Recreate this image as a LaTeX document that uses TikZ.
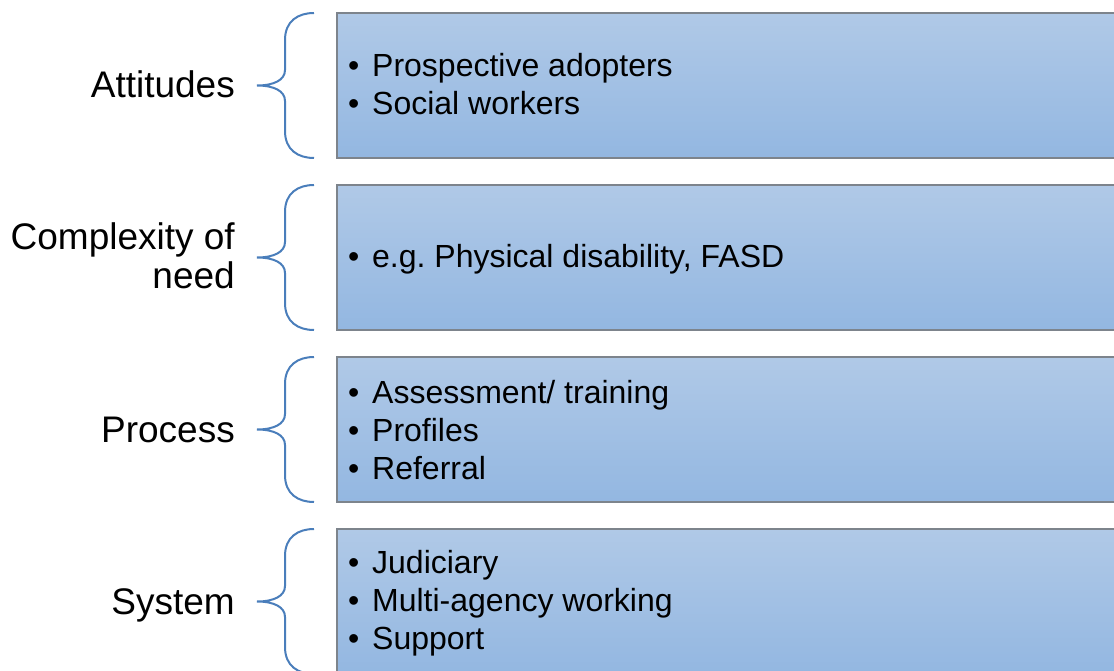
\documentclass[tikz,border=0pt]{standalone}
\usepackage{fontspec}
\setmainfont{Liberation Sans}
\frenchspacing
\definecolor{boxtop}{RGB}{176,201,231}
\definecolor{boxbot}{RGB}{147,183,225}
\definecolor{boxline}{RGB}{125,132,140}
\definecolor{bracecol}{RGB}{74,126,187}
\tikzset{
  box/.style={draw=boxline, line width=1.3pt, top color=boxtop, bottom color=boxbot,
    minimum width=820pt, minimum height=145pt, inner sep=0pt, outer sep=0pt, anchor=north west},
  lbl/.style={font=\fontsize{37}{38}\selectfont, anchor=base east, inner sep=0pt},
  item/.style={font=\fontsize{32}{37.5}\selectfont, anchor=base west, inner sep=0pt},
  lbrace/.pic={
    \draw[bracecol, line width=2pt]
      (0,0) .. controls (-16,0) and (-29,8) .. (-29,27) -- (-29,57)
      .. controls (-29,67) and (-40,72.5) .. (-57,72.5)
      .. controls (-40,72.5) and (-29,78) .. (-29,88) -- (-29,118)
      .. controls (-29,137) and (-16,145) .. (0,145);
  }
}
\newcommand{\bul}{\makebox[24pt][l]{•}}
\begin{document}
\begin{tikzpicture}[x=1pt,y=-1pt]
\useasboundingbox (0,0) rectangle (1114,671);
\clip (0,0) rectangle (1114,671);
% boxes
\node[box] (b1) at (337,13) {};
\node[box] (b2) at (337,185) {};
\node[box] (b3) at (337,357) {};
\node[box] (b4) at (337,529) {};
% braces
\pic at ([xshift=-23pt]b1.north west) {lbrace};
\pic at ([xshift=-23pt]b2.north west) {lbrace};
\pic at ([xshift=-23pt]b3.north west) {lbrace};
\pic at ([xshift=-23pt]b4.north west) {lbrace};
% labels
\node[lbl] (l1) at (235,98) {Attitudes};
\node[lbl] (l2a) at (235,250) {Complexity of};
\node[lbl] (l2b) at (235,288) {need};
\node[lbl] (l3) at (235,442) {Process};
\node[lbl] (l4) at (235,614) {System};
% items
\node[item] (i11) at (348,77) {\bul Prospective adopters};
\node[item] (i12) at (348,115) {\bul Social workers};
\node[item] (i21) at (348,268) {\bul e.g. Physical disability, FASD};
\node[item] (i31) at (348,403) {\bul Assessment/ training};
\node[item] (i32) at (348,441) {\bul Profiles};
\node[item] (i33) at (348,479) {\bul Referral};
\node[item] (i41) at (348,573) {\bul Judiciary};
\node[item] (i42) at (348,611) {\bul Multi-agency working};
\node[item] (i43) at (348,649) {\bul Support};
\end{tikzpicture}
\end{document}
